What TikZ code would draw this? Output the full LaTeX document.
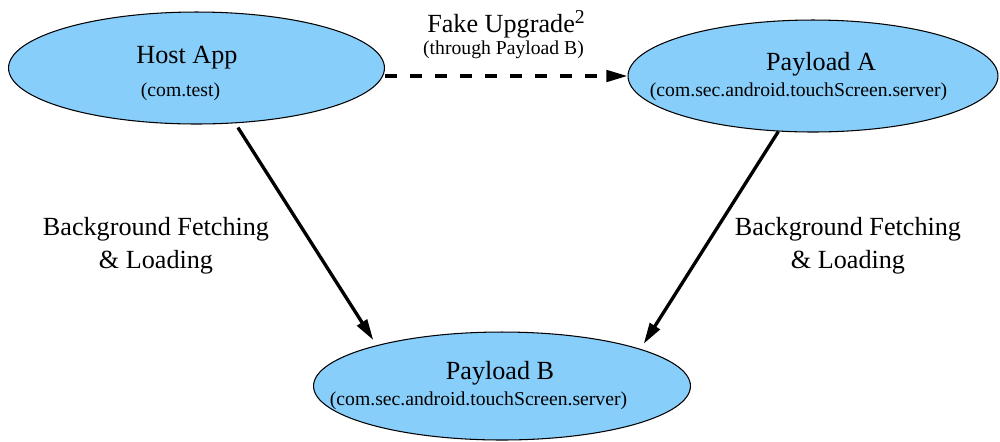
\documentclass[tikz,border=0pt]{standalone}
\usepackage{fontspec}
\setmainfont{Liberation Serif}
\usetikzlibrary{shapes.geometric,arrows.meta}
\definecolor{appblue}{RGB}{135,206,250}
\tikzset{
  app/.style={ellipse,draw,line width=.6pt,fill=appblue,minimum width=7.5cm,minimum height=2.24cm,inner sep=0pt},
  title/.style={anchor=base,inner sep=0pt,font=\fontsize{14.9}{18}\selectfont},
  pkg/.style={anchor=base,inner sep=0pt,font=\fontsize{11.2}{13}\selectfont},
  link/.style={line width=1.9pt,-{Triangle[length=12pt,width=6.5pt]}},
  note/.style={align=center,inner sep=0pt,font=\fontsize{14.9}{18.7}\selectfont}
}
\begin{document}
\begin{tikzpicture}[x=.02cm,y=-.02cm]
  \useasboundingbox (0,0) rectangle (1000,441);

  \node[app,minimum width=7.52cm] (host) at (196.5,68) {};
  \node[app,minimum width=7.4cm] (pa) at (813,76) {};
  \node[app,minimum width=7.54cm,minimum height=2.16cm] (pb) at (502,386) {};

  \node[title] (hostname) at (187,63) {Host App};
  \node[pkg] (hostpkg) at (180.5,96) {(com.test)};
  \node[title] (paname) at (821,70) {Payload A};
  \node[pkg] (papkg) at (798.5,96) {(com.sec.android.touchScreen.server)};
  \node[title] (pbname) at (500,379) {Payload B};
  \node[pkg] (pbpkg) at (478.5,405) {(com.sec.android.touchScreen.server)};

  \draw[link,dash pattern=on 6.8pt off 7.4pt] (host.east |- pa.west) -- (pa.west);
  \node[title] (upgrade) at (506,32) {Fake Upgrade\raisebox{5pt}{\fontsize{11.2}{13}\selectfont 2}};
  \node[pkg] (through) at (503.5,54) {(through Payload B)};

  \draw[link,shorten <=.1cm,shorten >=.12cm] (host.-55) -- (pb.162.4);
  \draw[link,shorten >=.12cm] (pa.-122.5) -- (pb.15);
  \node[note] (fetchleft) at (156,245.5) {Background Fetching\\\& Loading};
  \node[note] (fetchright) at (848,245.5) {Background Fetching\\\& Loading};
\end{tikzpicture}
\end{document}
